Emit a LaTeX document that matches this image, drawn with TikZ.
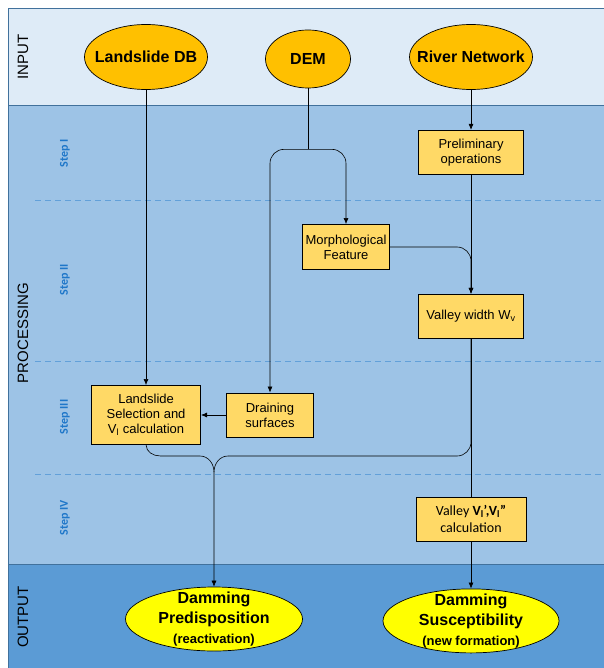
\documentclass[tikz,border=0pt]{standalone}
\usepackage{fontspec}
\setmainfont{Liberation Sans}
\newfontfamily\calibri{Carlito}
\usetikzlibrary{arrows.meta, positioning, shapes.geometric, calc}

\definecolor{inputbg}{HTML}{DEEBF7}
\definecolor{procbg}{HTML}{9DC3E6}
\definecolor{outbg}{HTML}{5B9BD5}
\definecolor{bandline}{HTML}{41719C}
\definecolor{stepblue}{HTML}{1F77C9}
\definecolor{srcorange}{HTML}{FFC000}
\definecolor{taskyellow}{HTML}{FFD966}
\definecolor{resyellow}{HTML}{FFFF00}

\begin{document}
\begin{tikzpicture}[
		x=1pt, y=1pt,
		node distance=40pt and 25pt,
		source/.style={draw, ellipse, fill=srcorange, line width=0.7pt, minimum width=123pt, minimum height=65pt, inner sep=0pt,
			label={[font=\bfseries\fontsize{16}{19}\selectfont]center:#1}},
		result/.style={draw, ellipse, fill=resyellow, line width=0.7pt, minimum width=177pt, minimum height=64pt, inner sep=0pt,
			label={[font=\bfseries\fontsize{16}{20}\selectfont, align=center]center:#1}},
		task/.style={draw, rectangle, fill=taskyellow, line width=0.9pt, minimum width=105pt, minimum height=44pt, inner sep=2pt, align=center, font=\fontsize{13}{15}\selectfont},
		bandtext/.style={rotate=90, font=\fontsize{15}{18}\selectfont},
		steptext/.style={rotate=90, text=stepblue, font=\calibri\bfseries\fontsize{12}{14}\selectfont},
		stepline/.style={dash pattern=on 6pt off 4pt, stepblue!70, line width=0.8pt},
		>={Latex[length=6pt, width=5pt]}, line width=0.6pt
		]
		\useasboundingbox (0,0) rectangle (603,-668);
		
		% Bands
		\fill[white] (0,0) rectangle (603,-668);
		\filldraw[fill=inputbg, draw=bandline] (8,-8) rectangle (610,-105);
		\filldraw[fill=procbg, draw=bandline] (8,-105) rectangle (610,-564);
		\filldraw[fill=outbg, draw=bandline] (8,-564) rectangle (610,-680);
		\foreach \y in {200,361,474}
			\draw[stepline] (35,-\y) -- (603,-\y);
		
		\node[bandtext] (inlab) at (23,-57) {INPUT};
		\node[bandtext] (proclab) at (23,-333) {PROCESSING};
		\node[bandtext] (outlab) at (23,-617) {OUTPUT};
		
		\node[steptext] (stepI) at (65,-153) {Step I};
		\node[steptext] (stepII) at (65,-280) {Step II};
		\node[steptext] (stepIII) at (65,-417) {Step III};
		\node[steptext] (stepIV) at (65,-518) {Step IV};
		
		% Nodes for the input
		\node[source={Landslide DB}] (lsdb) at (146,-57) {};
		\node[source=DEM, minimum width=85pt, minimum height=58pt] (dem) at (308,-59) {};
		\node[source={River Network}] (river) at (471,-57) {};
		
		% Nodes for the processing
		\node[task, below=40pt of river] (prelim) {Preliminary\\operations};
		\node[task, minimum width=87pt, minimum height=45pt] (morph) at (346,-247) {Morphological\\Feature};
		\node[task, below=119pt of prelim] (valley) {Valley width W\textsubscript{v}};
		\node[task, minimum width=87pt] (drain) at (270,-415) {Draining\\surfaces};
		\node[task, left=25pt of drain, minimum width=109pt, minimum height=59pt] (select) {Landslide\\Selection and\\V\textsubscript{l} calculation};
		\node[task, below=158pt of valley, minimum width=110pt, font=\calibri\fontsize{14}{17}\selectfont] (valleyv) {Valley \textbf{V\textsubscript{l}’,V\textsubscript{l}”}\\calculation};
		
		% Nodes for the output
		\node[result={Damming\\Predisposition\\{\fontsize{13}{16}\selectfont(reactivation)}}] (pred) at (214,-619) {};
		\node[result={Damming\\Susceptibility\\{\fontsize{13}{16}\selectfont(new formation)}}, minimum width=176pt, below=47pt of valleyv] (susc) {};
		
		% Landslide branch
		\draw[->] (lsdb.south) -- (lsdb.south |- select.north);
		
		% DEM branches
		\coordinate (demsplit) at ($(dem.south)+(0,-61)$);
		\draw (dem.south) -- (demsplit);
		\draw[->, rounded corners=14pt] (demsplit) -| (drain.north);
		\draw[->, rounded corners=14pt] (demsplit) -| (morph.north);
		\draw[->] (drain) -- (select);
		
		% River branch
		\draw[->] (river) -- (prelim);
		\draw[->] (prelim) -- (valley);
		\draw[->, rounded corners=14pt] (morph.east) -| (valley.north);
		\draw (valley) -- (valleyv);
		\draw[->] (valleyv) -- (susc);
		
		% Merging into the predisposition
		\coordinate (merge) at (214,-456);
		\draw[->] (select.south) to[out=-90,in=180] ($(select.south)+(14,-11)$) -- ($(merge)+(-14,0)$)
			to[out=0,in=90] ($(merge)+(0,-16)$) -- (pred.north);
		\draw[rounded corners=14pt] (valley.south) |- ($(merge)+(14,0)$);
		\draw ($(merge)+(14,0)$) to[out=180,in=90] ($(merge)+(0,-16)$);
	\end{tikzpicture}
\end{document}
